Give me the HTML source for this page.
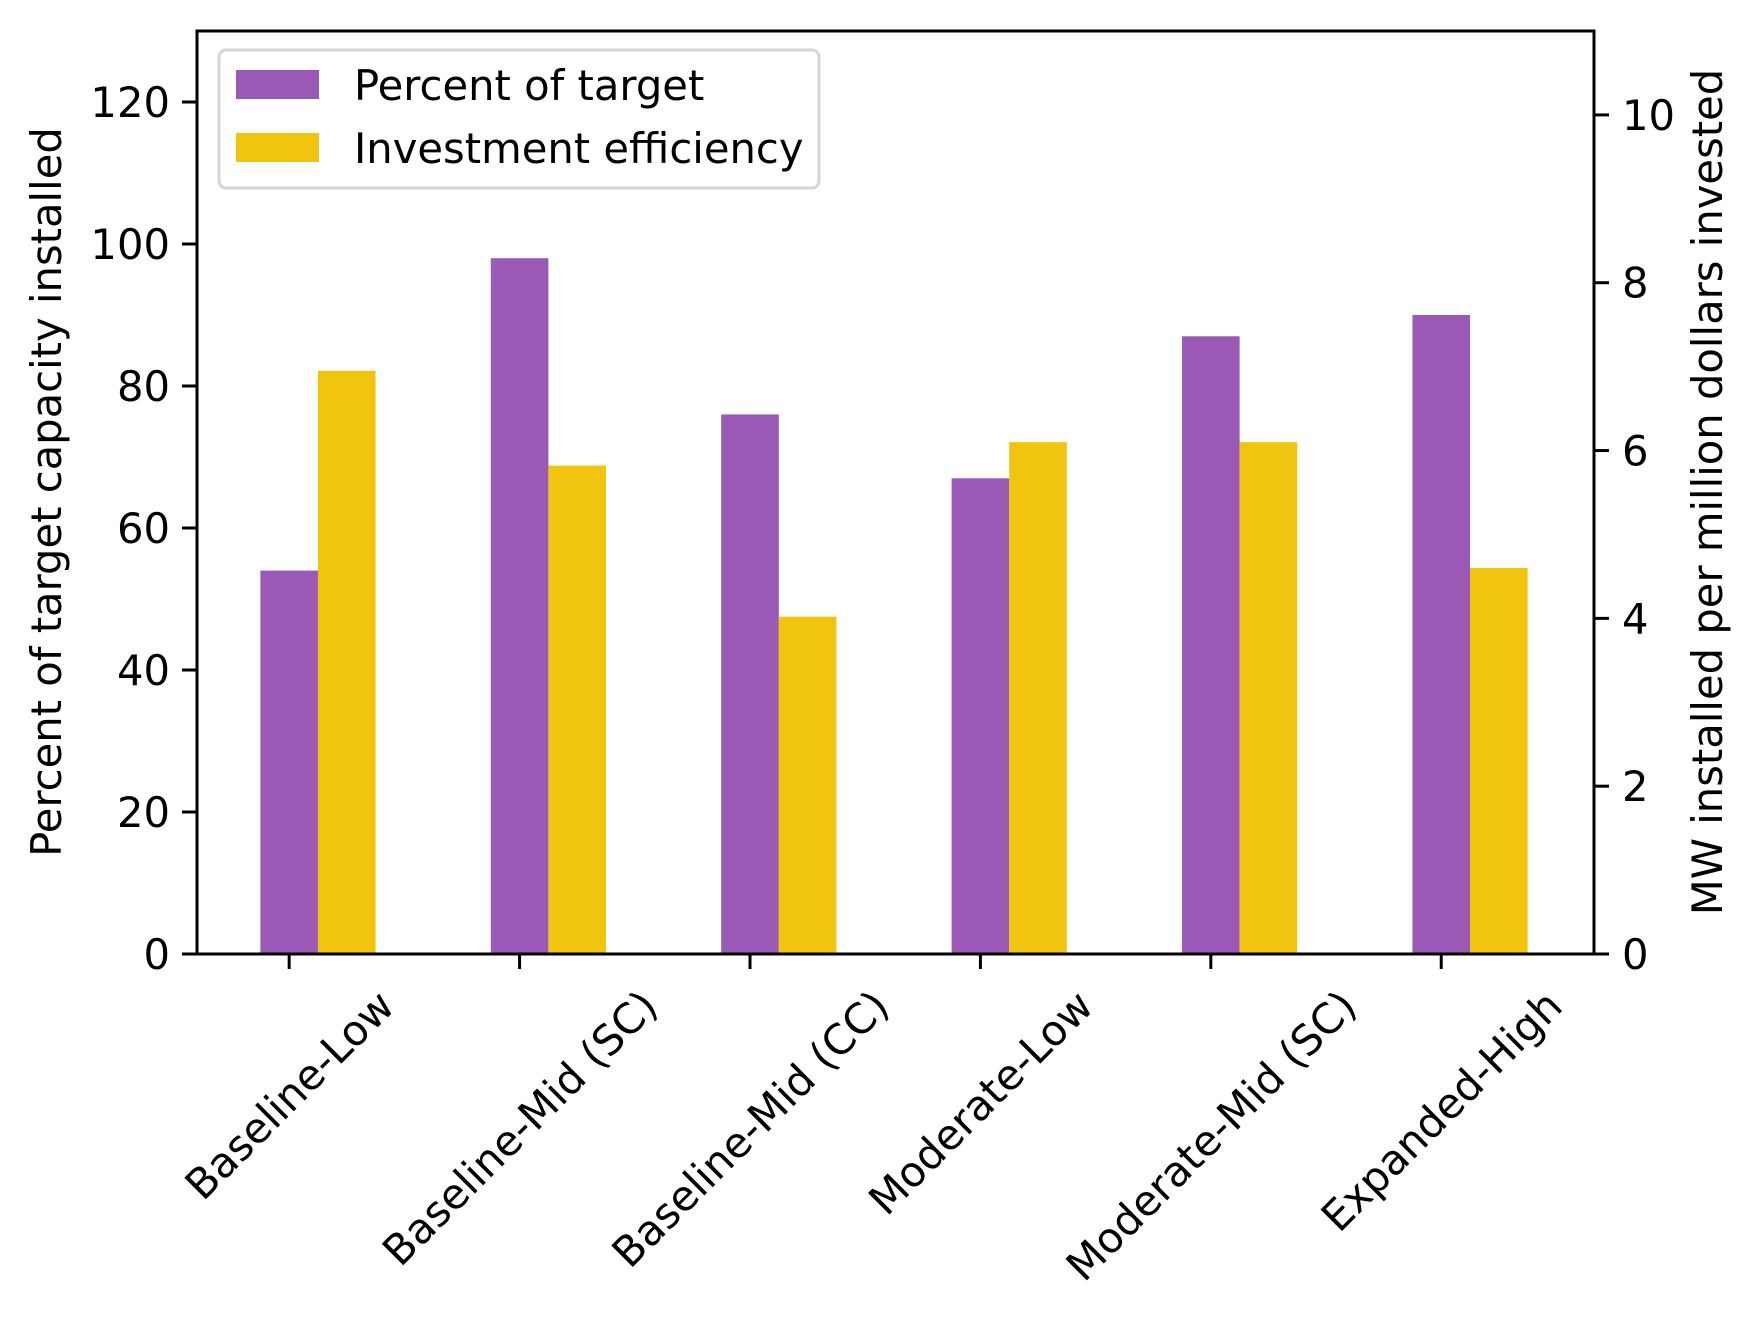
<!DOCTYPE html>
<html><head><meta charset="utf-8">
<style>
html,body{margin:0;padding:0;background:#fff;}
svg{display:block;font-family:"DejaVu Sans","Liberation Sans",sans-serif;}
</style></head>
<body>
<svg id="chart" width="1763" height="1317" viewBox="0 0 1763 1317" xmlns="http://www.w3.org/2000/svg">
<rect width="1763" height="1317" fill="#fff"/>
<g id="bars"></g>
<g id="axes"></g>
<g id="legend">
  <rect x="219" y="50" width="600" height="138" rx="7" fill="#fff" fill-opacity="0.8" stroke="#d6d6d6" stroke-width="3"/>
  <rect x="236" y="70" width="83" height="29" fill="#9b59b6"/>
  <text x="354" y="100" font-size="41.7">Percent of target</text>
  <rect x="236" y="133" width="83" height="29" fill="#f1c40f"/>
  <text x="354" y="163" font-size="41.7">Investment efficiency</text>
</g>
<text transform="translate(61,492) rotate(-90)" text-anchor="middle" font-size="41.7">Percent of target capacity installed</text>
<text transform="translate(1722,492) rotate(-90)" text-anchor="middle" font-size="41.7">MW installed per million dollars invested</text>
</svg>
<script>
const categories = ["Baseline-Low","Baseline-Mid (SC)","Baseline-Mid (CC)","Moderate-Low","Moderate-Mid (SC)","Expanded-High"];
const percentOfTarget = [54, 98, 76, 67, 87, 90];
const investmentEfficiency = [6.95, 5.82, 4.02, 6.1, 6.1, 4.6];
const leftTicks = [0, 20, 40, 60, 80, 100, 120];
const rightTicks = [0, 2, 4, 6, 8, 10];

const NS = "http://www.w3.org/2000/svg";
const L = 197, R = 1594, T = 31, B = 954;
const xMin = -0.4, xMax = 5.663;
const x = v => L + (v - xMin) / (xMax - xMin) * (R - L);
const yL = v => B - v / 130 * (B - T);
const yR = v => B - v / 11 * (B - T);
const bw = 0.25;
function mk(tag, attrs, parent){const e=document.createElementNS(NS,tag);for(const k in attrs)e.setAttribute(k,attrs[k]);parent.appendChild(e);return e;}
const bars = document.getElementById('bars');
const axes = document.getElementById('axes');
const svg = document.getElementById('chart');

categories.forEach((c, i) => {
  const x0 = x(i - bw/2), x1 = x(i + bw/2), x2 = x(i + 1.5*bw);
  const p = mk('rect', {x:x0, y:yL(percentOfTarget[i]), width:x1-x0, height:B-yL(percentOfTarget[i]), fill:'#9b59b6'}, bars);
  
  
  const q = mk('rect', {x:x1, y:yR(investmentEfficiency[i]), width:x2-x1, height:B-yR(investmentEfficiency[i]), fill:'#f1c40f'}, bars);
  
  
  const tk = mk('line', {x1:x(i), x2:x(i), y1:B, y2:B+15, stroke:'#000', 'stroke-width':3}, axes);
  
  
  const t = mk('text', {'font-size':41.7, 'text-anchor':'middle'}, svg);
  t.textContent = c;
  
  
  const len = t.getComputedTextLength();
  const h = 42;
  const half = (len + h) / (2*Math.SQRT2);
  const cy = 983 + half;
  t.setAttribute('transform', `translate(${x(i)},${cy}) rotate(-45)`);
  t.setAttribute('y', 15);
});

const frame = mk('rect', {x:L, y:T, width:R-L, height:B-T, fill:'none', stroke:'#000', 'stroke-width':3}, axes);



leftTicks.forEach(v => {
  const tk = mk('line', {x1:L-15, x2:L, y1:yL(v), y2:yL(v), stroke:'#000', 'stroke-width':3}, axes);
  
  
  const t = mk('text', {x:L-27, y:yL(v)+15, 'font-size':41.7, 'text-anchor':'end'}, axes);
  t.textContent = v;
  
  
});
rightTicks.forEach(v => {
  const tk = mk('line', {x1:R, x2:R+15, y1:yR(v), y2:yR(v), stroke:'#000', 'stroke-width':3}, axes);
  
  
  const t = mk('text', {x:R+28, y:yR(v)+15, 'font-size':41.7, 'text-anchor':'start'}, axes);
  t.textContent = v;
  
  
});
</script>
</body></html>
